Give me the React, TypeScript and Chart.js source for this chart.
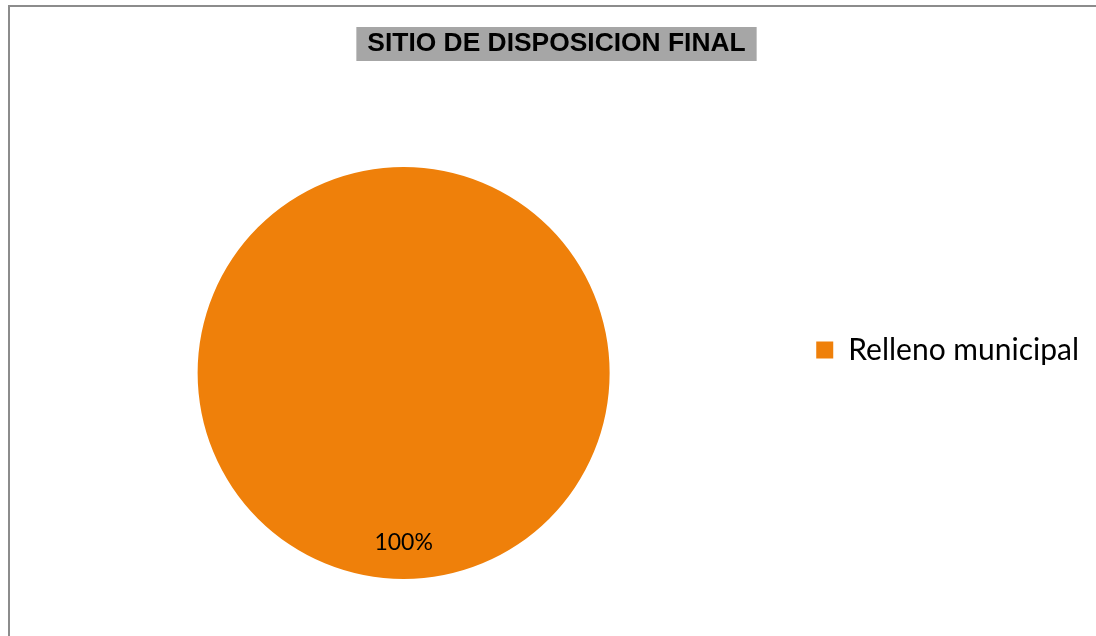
import React, { useEffect, useRef } from "react";
import { Chart, registerables } from "chart.js";

Chart.register(...registerables);

const titleText = "SITIO DE DISPOSICION FINAL";
const categories = ["Relleno municipal"];
const values = [100];
const percentLabels = ["100%"];
const sliceColors = ["#EF800A"];

const titleBg = {
  id: "titleBg",
  beforeDraw(chart: any) {
    const tb = chart.titleBlock;
    if (!tb) return;
    const ctx = chart.ctx;
    const opts = tb.options;
    ctx.save();
    ctx.font = `bold ${opts.font.size}px ${opts.font.family}`;
    const w = ctx.measureText(titleText).width;
    const cx = (tb.left + tb.right) / 2;
    const lh = opts.font.size * opts.font.lineHeight;
    const cy = tb.top + opts.padding.top + lh / 2;
    ctx.fillStyle = "#A6A6A6";
    ctx.fillRect(cx - w / 2 - 11, cy - 17, w + 22, 34);
    ctx.restore();
  },
};

const sliceLabels = {
  id: "sliceLabels",
  afterDatasetsDraw(chart: any) {
    const meta = chart.getDatasetMeta(0);
    const ctx = chart.ctx;
    ctx.save();
    ctx.font = "23px Lato";
    ctx.fillStyle = "#000000";
    ctx.textAlign = "center";
    ctx.textBaseline = "middle";
    meta.data.forEach((arc: any, i: number) => {
      const p = arc.getProps(["x", "y", "startAngle", "endAngle", "outerRadius"], true);
      const mid = (p.startAngle + p.endAngle) / 2;
      const r = p.outerRadius * 0.825;
      ctx.fillText(percentLabels[i], p.x + Math.cos(mid) * r, p.y + Math.sin(mid) * r);
    });
    ctx.restore();
  },
};

export default function App() {
  const ref = useRef<HTMLCanvasElement>(null);
  useEffect(() => {
    if (!ref.current) return;
    const chart = new Chart(ref.current, {
      type: "pie",
      data: {
        labels: categories,
        datasets: [
          {
            data: values,
            backgroundColor: sliceColors,
            borderWidth: 0,
            hoverOffset: 0,
          },
        ],
      },
      options: {
        responsive: false,
        animation: false,
        devicePixelRatio: 1,
        layout: { padding: { top: 121, bottom: 57, left: 24, right: 7 } },
        plugins: {
          tooltip: { enabled: false },
          title: {
            display: true,
            text: titleText,
            color: "#000000",
            font: { family: "'Liberation Sans', Arial", size: 26.4, weight: "bold", lineHeight: 1.2 },
            padding: { top: -92.84, bottom: 107.16 },
          },
          legend: {
            display: true,
            position: "right",
            labels: {
              boxWidth: 17,
              boxHeight: 17,
              padding: 33,
              color: "#000000",
              font: { family: "Lato", size: 30 },
            },
          },
        },
      },
      plugins: [titleBg, sliceLabels],
    });
    return () => chart.destroy();
  }, []);
  return (
    <div style={{ position: "fixed", left: 0, top: 0, width: 1096, height: 636, overflow: "hidden", background: "#fff" }}>
      <div
        style={{
          position: "absolute",
          left: 8,
          top: 5,
          width: 1200,
          height: 700,
          borderLeft: "2px solid #8c8c8c",
          borderTop: "2px solid #8c8c8c",
        }}
      />
      <canvas ref={ref} width={1096} height={636} style={{ position: "absolute", left: 0, top: 0 }} />
    </div>
  );
}
